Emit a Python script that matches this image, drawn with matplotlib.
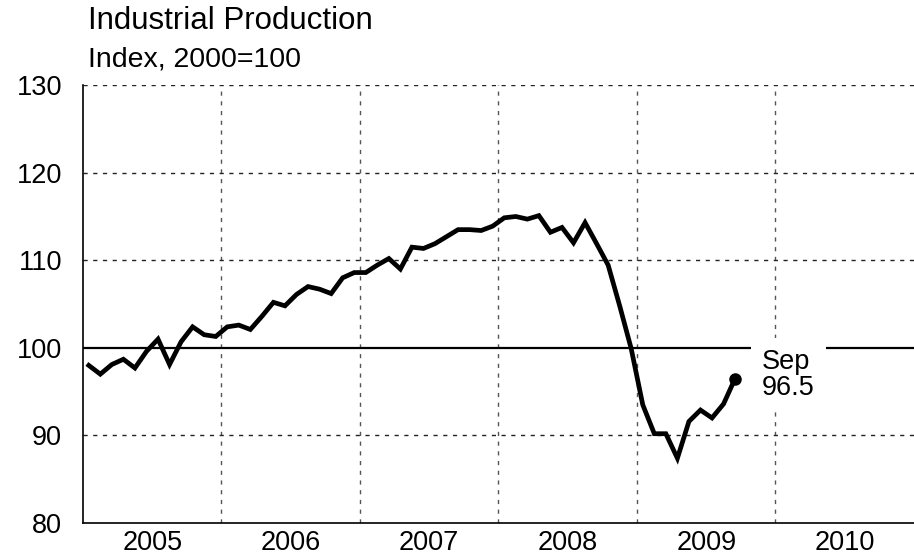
import numpy as np
import matplotlib
matplotlib.use('Agg')
import matplotlib.pyplot as plt

# monthly index, Jan 2005 - Sep 2009
ip = [98.0, 97.0, 98.1, 98.7, 97.7, 99.6, 101.0, 98.1, 100.7, 102.4, 101.5, 101.3,
      102.4, 102.6, 102.1, 103.6, 105.2, 104.8, 106.1, 107.0, 106.7, 106.2, 108.0, 108.6,
      108.6, 109.45, 110.2, 109.0, 111.5, 111.35, 111.9, 112.7, 113.5, 113.5, 113.4, 113.9,
      114.85, 115.0, 114.7, 115.1, 113.2, 113.75, 112.0, 114.3, 111.9, 109.45, 104.8, 99.9,
      93.5, 90.2, 90.2, 87.4, 91.6, 92.9, 92.0, 93.6, 96.5]
years = ['2005', '2006', '2007', '2008', '2009', '2010']
last_label = 'Sep\n96.5'

plt.rcParams['font.family'] = ['Liberation Sans', 'DejaVu Sans']

fig = plt.figure(figsize=(9.14, 5.6), dpi=100)
ax = fig.add_axes([0.0908, 0.066, 0.9092, 0.782])

x = np.arange(len(ip)) + 0.5
ax.set_xlim(0, 12 * len(years))
ax.set_ylim(80, 130)

# grid
for k in range(1, len(years)):
    ax.axvline(12 * k, color='#555555', lw=1, ls=(0, (3, 4)), zorder=1)
for yv in [90, 110, 120, 130]:
    ax.axhline(yv, color='#222222', lw=1, ls=(0, (3, 4)), zorder=1)
ax.axhline(100, color='black', lw=1.6, zorder=2)

ax.plot(x, ip, color='black', lw=3.4, zorder=3, solid_joinstyle='miter')
ax.plot(x[-1], ip[-1], 'o', color='black', ms=8, zorder=4)

ax.text(x[-1] + 2.3, ip[-1] + 0.4, last_label, fontsize=19.5, va='center', ha='left',
        linespacing=1.0, bbox=dict(facecolor='white', edgecolor='none', pad=8), zorder=5)

ax.set_xticks([12 * k + 6 for k in range(len(years))])
ax.set_xticklabels(years, fontsize=19.5)
ax.set_yticks([80, 90, 100, 110, 120, 130])
ax.set_yticklabels(['80', '90', '100', '110', '120', '130'], fontsize=19.5)
ax.tick_params(length=0)
ax.tick_params(axis='y', pad=15)
ax.tick_params(axis='x', pad=5)

for s in ['top', 'right']:
    ax.spines[s].set_visible(False)
ax.spines['left'].set_linewidth(1.2)
ax.spines['bottom'].set_linewidth(1.2)

fig.text(0.096, 0.948, 'Industrial Production', fontsize=22.5, va='baseline')
fig.text(0.096, 0.882, 'Index, 2000=100', fontsize=20.5, va='baseline')

fig.savefig('out.png', dpi=100)
